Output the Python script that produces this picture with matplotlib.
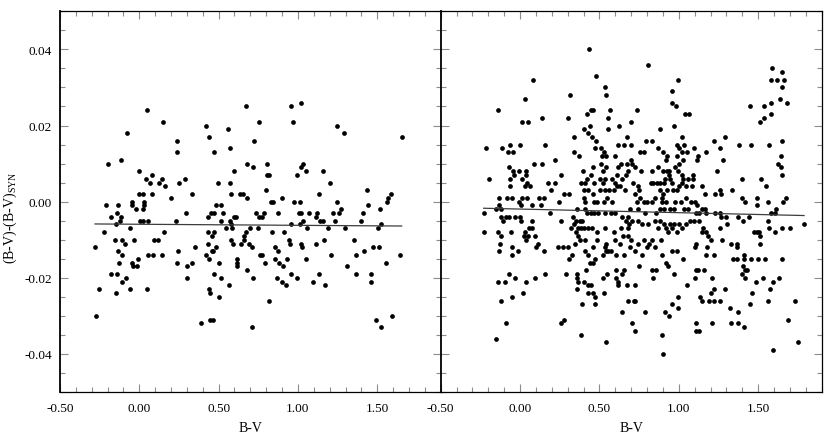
import numpy as np
import matplotlib
matplotlib.use('Agg')
import matplotlib.pyplot as plt
from matplotlib.ticker import MultipleLocator, FormatStrFormatter

plt.rcParams['font.family'] = ['Liberation Serif', 'DejaVu Serif']
plt.rcParams['mathtext.fontset'] = 'custom'
plt.rcParams['mathtext.rm'] = 'Liberation Serif'
plt.rcParams['axes.unicode_minus'] = False

# left panel: residual levels and the B-V values found at each level
left_levels = [0.026, 0.025, 0.024, 0.021, 0.020, 0.019, 0.018, 0.017, 0.016, 0.014,
               0.013, 0.011, 0.010, 0.009, 0.008, 0.007, 0.006, 0.005, 0.004, 0.003,
               0.002, 0.001, 0.000, -0.001, -0.002, -0.003, -0.004, -0.005, -0.006,
               -0.007, -0.008, -0.009, -0.010, -0.011, -0.012, -0.013, -0.014, -0.015,
               -0.016, -0.017, -0.018, -0.019, -0.020, -0.021, -0.022, -0.023, -0.024,
               -0.025, -0.026, -0.030, -0.031, -0.032, -0.033]
left_bv = [
    [1.022],
    [0.673, 0.959],
    [0.051],
    [0.152, 0.757, 0.969],
    [0.418, 1.244],
    [0.559],
    [-0.075, 1.290],
    [0.442, 1.654],
    [0.238, 0.723],
    [0.572],
    [0.238, 0.472],
    [-0.117],
    [-0.195, 0.681, 0.803, 1.034],
    [0.719, 1.022],
    [-0.004, 0.595, 1.051, 1.156],
    [0.082, 0.805, 0.820, 0.992],
    [0.042, 0.141, 0.286],
    [0.065, 0.122, 0.250, 0.496, 0.572, 1.200],
    [0.162],
    [0.799, 1.438],
    [-0.004, 0.025, 0.078, 0.334, 0.576, 0.637, 0.654, 1.135, 1.585],
    [0.200, 0.681, 0.898, 1.566],
    [-0.046, 0.028, 0.828, 0.841, 0.978, 1.013, 1.247, 1.560],
    [-0.212, -0.136, -0.046, 0.028, 0.486, 0.513, 1.440],
    [-0.023, 0.025, 1.270, 1.520],
    [-0.139, 0.297, 0.450, 0.473, 0.530, 0.738, 0.784, 0.875, 1.005, 1.020, 1.072,
     1.118, 1.221, 1.259, 1.413],
    [-0.181, -0.113, 0.433, 0.597, 0.610, 0.753, 0.774, 1.112],
    [-0.122, 0.002, 0.021, 0.055, 0.231, 0.513, 0.570, 1.032, 1.137, 1.160, 1.236, 1.398],
    [-0.149, 0.576, 0.959, 1.013, 1.526],
    [-0.059, 0.545, 0.582, 0.700, 0.748, 1.057, 1.192, 1.299, 1.507],
    [-0.225, 0.156, 0.431, 0.471, 0.671, 0.839, 0.912],
    [0.460, 0.662],
    [-0.151, -0.109, -0.031, 0.093, 0.120, 0.578, 0.662, 0.942, 1.162, 1.354],
    [-0.090, 0.433, 0.593, 0.643, 0.690, 0.952, 1.017, 1.112],
    [-0.279, 0.351, 0.484, 0.708, 0.856, 1.026, 1.471, 1.513],
    [-0.134, 0.242, 0.456, 0.467, 0.872, 1.417],
    [-0.111, 0.055, 0.088, 0.141, 0.418, 0.759, 0.776, 1.207, 1.364, 1.644],
    [-0.006, 0.437, 0.618, 0.856, 0.929, 1.049],
    [-0.130, -0.048, 0.240, 0.332, 0.500, 0.618, 0.790, 0.883, 1.558],
    [-0.040, -0.017, 0.299, 0.614, 0.904, 1.312],
    [0.677],
    [-0.178, -0.139, 0.473, 0.959, 1.131, 1.368, 1.461],
    [-0.086, 0.303, 0.513, 0.717, 0.866, 0.996],
    [-0.107, 0.902, 1.093, 1.459],
    [0.563, 0.927, 1.173],
    [-0.252, -0.059, 0.051, 0.437],
    [-0.149, 0.444],
    [0.500],
    [0.818],
    [-0.273, 1.591],
    [0.444, 0.463, 1.492],
    [0.391],
    [0.713, 1.524],
]

# right panel
right_levels = [0.040, 0.036, 0.035, 0.034, 0.033, 0.032, 0.030, 0.029, 0.028, 0.027,
                0.026, 0.025, 0.024, 0.023, 0.022, 0.021, 0.020, 0.019, 0.018, 0.017,
                0.016, 0.015, 0.014, 0.013, 0.012, 0.011, 0.010, 0.009, 0.008, 0.007,
                0.006, 0.005, 0.004, 0.003, 0.002, 0.001, 0.000, -0.001, -0.002, -0.003,
                -0.004, -0.005, -0.006, -0.007, -0.008, -0.009, -0.010, -0.011, -0.012,
                -0.013, -0.014, -0.015, -0.016, -0.017, -0.018, -0.019, -0.020, -0.021,
                -0.022, -0.023, -0.024, -0.025, -0.026, -0.027, -0.028, -0.029, -0.030,
                -0.031, -0.032, -0.033, -0.034, -0.035, -0.036, -0.037, -0.039, -0.040]
right_bv = [
    [0.433],
    [0.805],
    [1.587],
    [1.648],
    [0.479],
    [0.082, 0.994, 1.578, 1.618, 1.662],
    [0.534, 1.650],
    [0.959],
    [0.317, 0.544],
    [0.034, 1.635],
    [0.959, 1.578, 1.684],
    [0.980, 1.448, 1.536],
    [-0.136, 0.448, 0.460, 0.565, 0.736],
    [0.422, 1.039, 1.064, 1.583],
    [0.141, 0.305, 0.553, 1.538],
    [0.015, 0.050, 0.696, 1.509],
    [0.439, 0.624, 0.969],
    [0.401, 0.557, 0.883],
    [0.431],
    [0.338, 0.452, 0.673, 1.022, 1.288],
    [0.477, 0.796, 0.832, 1.221, 1.652],
    [-0.063, 0.002, 0.158, 0.620, 0.652, 0.696, 0.988, 1.032, 1.381, 1.452, 1.568],
    [-0.212, -0.115, 0.475, 0.513, 0.866, 1.000, 1.095, 1.257],
    [-0.078, -0.046, 0.341, 0.526, 0.755, 0.780, 0.902, 1.019, 1.053, 1.173],
    [0.372, 0.517, 0.540, 0.595, 0.925, 0.988, 1.118, 1.642],
    [0.221, 0.696, 0.919, 1.028, 1.116, 1.278],
    [0.088, 0.141, 0.507, 0.635, 0.673, 0.706, 1.000, 1.625],
    [-0.071, 0.458, 0.540, 0.614, 0.725, 0.872, 0.977, 1.646],
    [-0.046, -0.006, 0.040, 0.395, 0.521, 0.679, 0.763, 0.828, 0.900, 0.925, 0.940,
     0.994, 1.238],
    [-0.038, 0.038, 0.259, 0.450, 0.612, 0.670, 0.938, 1.019, 1.091, 1.648],
    [-0.197, -0.063, 0.015, 0.423, 0.505, 0.538, 0.580, 0.643, 0.916, 0.944, 1.028,
     1.055, 1.091, 1.398, 1.520],
    [0.044, 0.175, 0.221, 0.381, 0.410, 0.465, 0.521, 0.595, 0.710, 0.822, 0.837,
     0.860, 0.883, 0.904, 0.959, 1.019],
    [-0.061, 0.034, 0.063, 0.608, 0.631, 0.746, 1.000, 1.043, 1.085, 1.148, 1.551],
    [0.198, 0.400, 0.425, 0.505, 0.538, 0.561, 0.589, 0.660, 0.752, 0.881, 0.927,
     0.963, 0.988, 1.257, 1.335],
    [0.276, 0.307, 0.460, 0.723, 0.902, 1.164, 1.225, 1.265],
    [-0.132, -0.082, -0.050, 0.015, 0.044, 0.118, 0.149, 0.400, 0.547, 0.757, 0.851,
     0.895, 1.045, 1.396, 1.490, 1.676],
    [-0.006, 0.246, 0.410, 0.465, 0.486, 0.526, 0.582, 0.735, 0.782, 0.801, 0.830,
     0.893, 0.919, 0.979, 1.011, 1.078, 1.102, 1.419, 1.560, 1.657],
    [-0.134, 0.007, 0.078, 0.133, 1.116, 1.490],
    [-0.151, -0.122, 0.360, 0.412, 0.694, 0.740, 0.881, 0.908, 0.944, 0.971, 1.030,
     1.055, 1.148, 1.162, 1.614],
    [-0.225, 0.189, 0.421, 0.444, 0.463, 0.492, 0.534, 0.572, 0.597, 0.786, 0.857,
     1.106, 1.125, 1.171, 1.225, 1.261, 1.583, 1.608],
    [-0.120, -0.088, -0.067, -0.029, -0.002, 0.332, 0.641, 0.679, 1.263, 1.299, 1.370,
     1.440],
    [-0.105, 0.007, 0.074, 0.255, 0.355, 0.379, 0.393, 0.668, 0.704, 0.740, 0.851,
     0.879, 1.072, 1.097, 1.129, 1.402, 1.560],
    [0.339, 0.687, 0.765, 0.809, 0.908, 0.942, 0.969, 1.002, 1.047, 1.303, 1.789],
    [0.059, 0.078, 0.320, 0.362, 0.385, 0.404, 0.425, 0.452, 0.536, 0.637, 0.681,
     0.868, 0.919, 0.956, 1.021, 1.154, 1.259, 1.566, 1.650, 1.703],
    [-0.229, -0.136, -0.057, 0.030, 0.355, 0.486, 0.589, 0.933, 0.988, 1.143, 1.169,
     1.471, 1.490, 1.503, 1.604],
    [-0.117, 0.023, 0.051, 0.091, 0.368, 0.648, 0.683, 1.185, 1.509],
    [0.040, 0.376, 0.408, 0.484, 0.595, 0.698, 0.782, 0.830, 0.887, 1.200, 1.274],
    [-0.128, 0.112, 0.345, 0.542, 0.631, 0.746, 0.815, 1.110, 1.326, 1.364, 1.513],
    [-0.052, 0.103, 0.236, 0.273, 0.299, 0.458, 0.534, 0.694, 0.797, 0.847, 1.102,
     1.179, 1.368],
    [-0.134, -0.010, 0.151, 0.406, 0.542, 0.555, 0.572, 0.723, 0.959, 0.988],
    [-0.052, 0.326, 0.431, 0.524, 0.603, 0.656, 0.769, 0.891, 1.173, 1.221, 1.410],
    [0.311, 0.471, 1.028, 1.343, 1.364, 1.412, 1.457, 1.501, 1.541, 1.648],
    [0.442, 0.460, 0.919],
    [0.748, 0.931, 1.402],
    [0.414, 0.605, 0.656, 0.830, 0.857, 1.110, 1.121, 1.158, 1.419, 1.429],
    [-0.071, 0.154, 0.292, 0.360, 0.549, 0.639, 0.969, 1.396],
    [-0.031, 0.095, 0.360, 0.524, 0.603, 0.839, 1.102, 1.207, 1.419, 1.532, 1.631],
    [-0.139, -0.096, 0.038, 0.368, 0.404, 0.614, 1.488, 1.593],
    [0.429, 0.444, 0.620, 0.673, 0.723, 1.053],
    [0.360, 1.219, 1.290, 1.572],
    [0.021, 0.429, 0.458, 0.526, 1.200, 1.461],
    [-0.052, 0.475, 0.994, 1.135],
    [-0.117, 0.679, 0.715, 0.725, 1.145, 1.189, 1.219, 1.261, 1.560, 1.732],
    [0.389, 0.473, 0.959, 1.446],
    [0.994, 1.320],
    [0.645, 0.786, 0.914, 1.370],
    [0.937],
    [0.278, 1.690],
    [-0.088, 0.257, 0.708, 1.108, 1.208, 1.330, 1.370],
    [1.412],
    [0.723, 1.110, 1.129],
    [0.387, 0.897],
    [-0.153],
    [0.542, 1.753],
    [1.595],
    [0.900],
]

# linear fits drawn in each panel (intercept, slope)
left_fit = (-0.00594, -0.00028)
right_fit = (-0.00195, -0.00095)


def expand(levels, rows):
    xs, ys = [], []
    for lev, row in zip(levels, rows):
        xs.extend(row)
        ys.extend([lev] * len(row))
    return np.array(xs), np.array(ys)


def style_axis(ax):
    ax.set_xlim(-0.5, 1.9)
    ax.set_ylim(-0.05, 0.05)
    ax.xaxis.set_major_locator(MultipleLocator(0.5))
    ax.xaxis.set_minor_locator(MultipleLocator(0.1))
    ax.yaxis.set_major_locator(MultipleLocator(0.02))
    ax.yaxis.set_minor_locator(MultipleLocator(0.005))
    ax.xaxis.set_major_formatter(FormatStrFormatter('%.2f'))
    ax.yaxis.set_major_formatter(FormatStrFormatter('%.2f'))
    ax.tick_params(which='both', direction='in', top=True, right=True,
                   color='#8c8c8c', width=0.8, labelsize=9.5)
    ax.tick_params(which='major', length=6)
    ax.tick_params(which='minor', length=3.5)
    ax.tick_params(axis='x', pad=7)
    ax.tick_params(axis='y', pad=6)
    for sp in ax.spines.values():
        sp.set_color('black')
        sp.set_linewidth(0.9)
    ax.spines['left'].set_linewidth(1.3)
    ax.set_xlabel('B-V', fontsize=10, labelpad=5)


fig = plt.figure(figsize=(8.31, 4.35), dpi=100)
ax1 = fig.add_axes([0.0722, 0.0966, 0.4581, 0.8751])
ax2 = fig.add_axes([0.5303, 0.0966, 0.4585, 0.8751], sharey=ax1)

for ax, levels, rows, fit in [(ax1, left_levels, left_bv, left_fit),
                              (ax2, right_levels, right_bv, right_fit)]:
    bv, dbv = expand(levels, rows)
    ax.plot(bv, dbv, 'o', color='black', markersize=3.4, markeredgewidth=0)
    xr = np.array([bv.min(), bv.max()])
    ax.plot(xr, fit[0] + fit[1] * xr, '-', color='#3c3c3c', linewidth=0.9)
    style_axis(ax)

ax2.tick_params(axis='y', labelleft=False)
ax1.set_ylabel('(B-V)-(B-V)$_{\\mathrm{SYN}}$', fontsize=10)
ax1.yaxis.set_label_coords(-0.108, 0.46)

fig.savefig('out.png', dpi=100)
